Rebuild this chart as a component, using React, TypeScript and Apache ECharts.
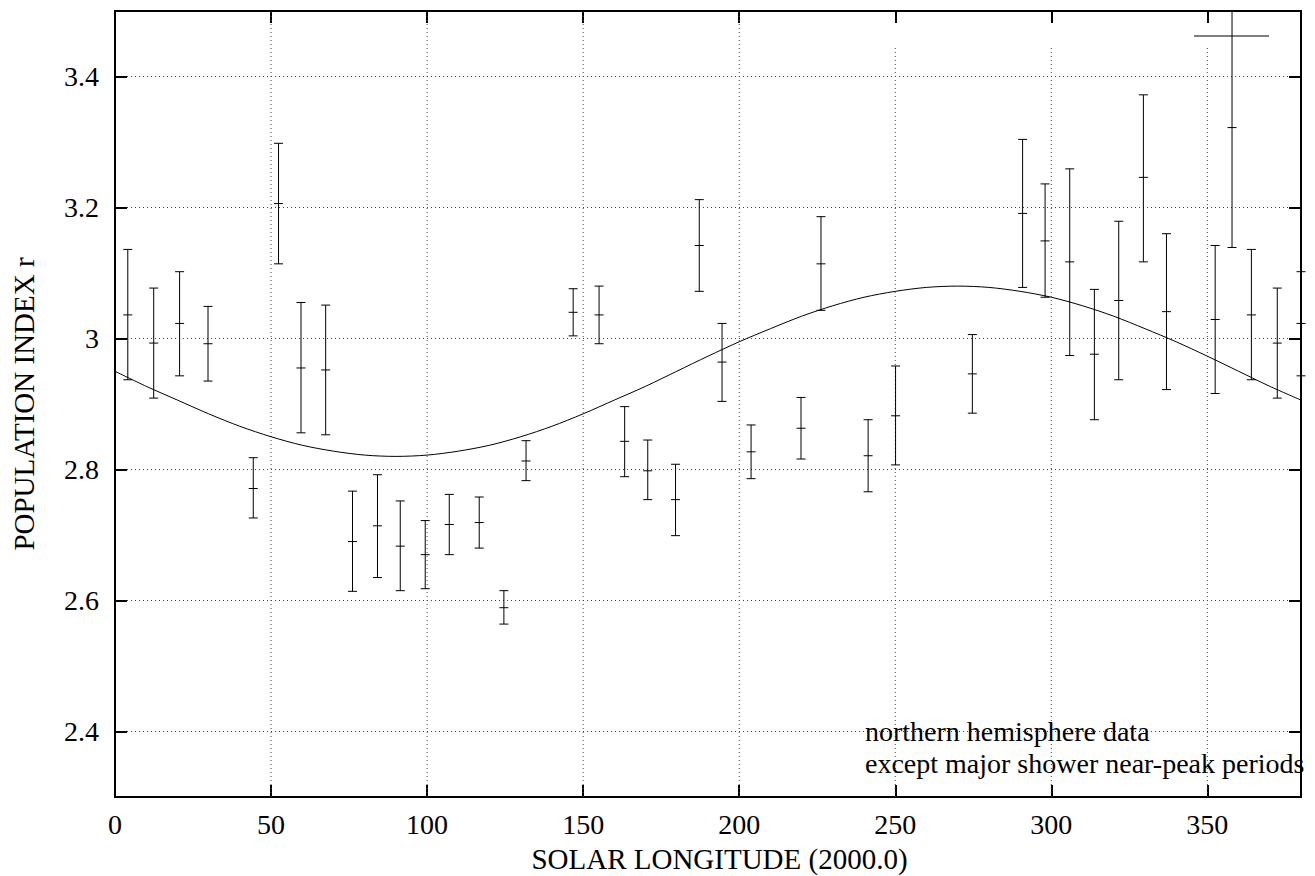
import React, { useEffect, useRef } from "react";
import * as echarts from "echarts";

// Solar longitude of each data point
const lon = [4.1, 12.4, 20.7, 29.8, 44.3, 52.4, 59.6, 67.5, 76.1, 84.1, 91.4, 99.4, 107.1, 116.7, 124.6, 131.7, 146.8, 155.1, 163.3, 170.7, 179.6, 187.2, 194.5, 203.8, 219.8, 226.2, 241.3, 250.1, 274.7, 290.8, 298.0, 305.9, 313.8, 321.6, 329.5, 336.9, 352.5, 357.9, 364.1, 372.4, 380.0];
// Population index r (central value)
const rMid = [3.036, 2.993, 3.023, 2.992, 2.771, 3.206, 2.955, 2.952, 2.690, 2.714, 2.683, 2.670, 2.716, 2.719, 2.589, 2.813, 3.040, 3.036, 2.843, 2.798, 2.754, 3.142, 2.964, 2.827, 2.863, 3.114, 2.821, 2.882, 2.946, 3.191, 3.149, 3.117, 2.976, 3.058, 3.246, 3.041, 3.029, 3.322, 3.036, 2.993, 3.023];
// Lower end of error bar
const rLow = [2.937, 2.909, 2.943, 2.935, 2.726, 3.114, 2.856, 2.853, 2.614, 2.635, 2.615, 2.618, 2.670, 2.680, 2.564, 2.783, 3.004, 2.992, 2.789, 2.754, 2.699, 3.072, 2.904, 2.786, 2.816, 3.043, 2.766, 2.807, 2.886, 3.078, 3.063, 2.974, 2.876, 2.937, 3.117, 2.922, 2.916, 3.139, 2.937, 2.909, 2.943];
// Upper end of error bar
const rHigh = [3.136, 3.077, 3.102, 3.049, 2.818, 3.298, 3.055, 3.051, 2.767, 2.792, 2.752, 2.722, 2.762, 2.758, 2.615, 2.844, 3.076, 3.080, 2.896, 2.845, 2.808, 3.212, 3.023, 2.868, 2.910, 3.186, 2.876, 2.958, 3.006, 3.304, 3.236, 3.259, 3.075, 3.179, 3.372, 3.160, 3.142, 3.506, 3.136, 3.077, 3.102];

// Fitted curve
const fitLon = [0, 10, 20, 30, 40, 50, 60, 70, 80, 90, 100, 110, 120, 130, 140, 150, 160, 170, 180, 190, 200, 210, 220, 230, 240, 250, 260, 270, 280, 290, 300, 310, 320, 330, 340, 350, 360, 370, 380];
const fitR = [2.950, 2.927, 2.906, 2.885, 2.866, 2.850, 2.837, 2.828, 2.822, 2.820, 2.822, 2.828, 2.837, 2.850, 2.866, 2.885, 2.906, 2.927, 2.950, 2.973, 2.995, 3.015, 3.034, 3.050, 3.063, 3.072, 3.078, 3.080, 3.078, 3.072, 3.063, 3.050, 3.034, 3.015, 2.995, 2.973, 2.950, 2.927, 2.906];

// Vertical grid positions
const xGrid = [50, 100, 150, 200, 250, 300, 350];

const xAxisTitle = "SOLAR LONGITUDE (2000.0)";
const yAxisTitle = "POPULATION INDEX r";
const noteLines = ["northern hemisphere data", "except major shower near-peak periods"];

const X_MIN = 0;
const X_MAX = 380;
const Y_MIN = 2.3;
const Y_MAX = 3.5;
const KEY_FROM_X = 250;
const KEY_BOTTOM_Y = 3.444;

export default function App() {
  const ref = useRef<HTMLDivElement>(null);

  useEffect(() => {
    const el = ref.current;
    if (!el) return;
    const chart = echarts.init(el, null, { renderer: "svg" });
    const font = "'Liberation Serif', 'Times New Roman', serif";
    const FS = 28;
    const textStyle = { fontFamily: font, fontSize: FS, color: "#000" };
    const axisLine = { show: true, onZero: false, lineStyle: { color: "#000", width: 2 } };
    const axisTick = { show: true, inside: true, length: 12, lineStyle: { color: "#000", width: 2 } };

    const errData = lon.map((x, i) => [x, rMid[i], rLow[i], rHigh[i]]);
    const gridData = xGrid.map((x) => [x, x >= KEY_FROM_X ? KEY_BOTTOM_Y : Y_MAX]);
    const fitData = fitLon.map((x, i) => [x, fitR[i]]);

    chart.setOption({
      animation: false,
      grid: { left: 115, top: 11, right: 14, bottom: 79, containLabel: false, outerBoundsMode: "none" },
      xAxis: [
        {
          type: "value",
          min: X_MIN,
          max: X_MAX,
          interval: 50,
          position: "bottom",
          axisLine,
          axisTick,
          splitLine: { show: false },
          axisLabel: { ...textStyle, margin: 13, showMaxLabel: false, showMinLabel: true },
          name: xAxisTitle,
          nameLocation: "middle",
          nameGap: 50,
          nameTextStyle: { ...textStyle, fontSize: 29, lineHeight: 24, padding: [0, 0, 0, 23] },
        },
        {
          type: "value",
          min: X_MIN,
          max: X_MAX,
          interval: 50,
          position: "top",
          axisLine,
          axisTick,
          splitLine: { show: false },
          axisLabel: { show: false },
        },
      ],
      yAxis: [
        {
          type: "value",
          min: Y_MIN,
          max: Y_MAX,
          splitNumber: 6,
          position: "left",
          axisLine,
          axisTick,
          splitLine: { show: true, lineStyle: { color: "#444", width: 1, type: [1, 3] } },
          axisLabel: { ...textStyle, margin: 16, showMinLabel: false, showMaxLabel: false },
          name: yAxisTitle,
          nameLocation: "middle",
          nameRotate: 90,
          nameGap: 77,
          nameTextStyle: { ...textStyle, fontSize: 29 },
        },
        {
          type: "value",
          min: Y_MIN,
          max: Y_MAX,
          splitNumber: 6,
          position: "right",
          axisLine,
          axisTick,
          splitLine: { show: false },
          axisLabel: { show: false },
        },
      ],
      series: [
        {
          type: "custom",
          name: "grid",
          z: 1,
          silent: true,
          clip: false,
          data: gridData,
          encode: { x: 0, y: 1 },
          renderItem: (params: any, api: any) => {
            const x = api.value(0);
            const top = api.value(1);
            const p0 = api.coord([x, Y_MIN]);
            const p1 = api.coord([x, top]);
            return {
              type: "line",
              shape: { x1: p0[0], y1: p0[1], x2: p1[0], y2: p1[1] },
              style: { stroke: "#444", lineWidth: 1, lineDash: [1, 3] },
            };
          },
        },
        {
          type: "line",
          name: "fit",
          z: 2,
          data: fitData,
          smooth: 0.3,
          symbol: "none",
          showSymbol: false,
          lineStyle: { color: "#000", width: 1 },
          silent: true,
        },
        {
          type: "custom",
          name: "r",
          z: 3,
          clip: false,
          data: errData,
          encode: { x: 0, y: 1 },
          renderItem: (params: any, api: any) => {
            const x = api.value(0);
            const m = api.value(1);
            const lo = api.value(2);
            const hi = api.value(3);
            const loC = Math.max(lo, Y_MIN);
            const hiC = Math.min(hi, Y_MAX);
            const pLo = api.coord([x, loC]);
            const pHi = api.coord([x, hiC]);
            const pM = api.coord([x, m]);
            const w = 4.5;
            const style = { stroke: "#000", lineWidth: 1 };
            const children: any[] = [
              { type: "line", shape: { x1: pLo[0], y1: pLo[1], x2: pHi[0], y2: pHi[1] }, style },
              { type: "line", shape: { x1: pM[0] - w, y1: pM[1], x2: pM[0] + w, y2: pM[1] }, style },
            ];
            if (lo >= Y_MIN) {
              children.push({ type: "line", shape: { x1: pLo[0] - w, y1: pLo[1], x2: pLo[0] + w, y2: pLo[1] }, style });
            }
            if (hi <= Y_MAX) {
              children.push({ type: "line", shape: { x1: pHi[0] - w, y1: pHi[1], x2: pHi[0] + w, y2: pHi[1] }, style });
            }
            return { type: "group", children };
          },
        },
      ],
      graphic: [
        {
          type: "line",
          z: 10,
          shape: { x1: 1194, y1: 36, x2: 1269, y2: 36 },
          style: { stroke: "#000", lineWidth: 1 },
        },
        {
          type: "text",
          z: 10,
          style: { x: 865, y: 731.3, text: noteLines[0], font: `${FS}px 'Liberation Serif', serif`, fill: "#000", align: "left", verticalAlign: "middle" },
        },
        {
          type: "text",
          z: 10,
          style: { x: 865, y: 763.3, text: noteLines[1], font: `${FS}px 'Liberation Serif', serif`, fill: "#000", align: "left", verticalAlign: "middle" },
        },
      ],
    });

    return () => {
      chart.dispose();
    };
  }, []);

  return (
    <div
      ref={ref}
      style={{ position: "fixed", left: 0, top: 0, width: 1315, height: 876, background: "#fff" }}
    />
  );
}
